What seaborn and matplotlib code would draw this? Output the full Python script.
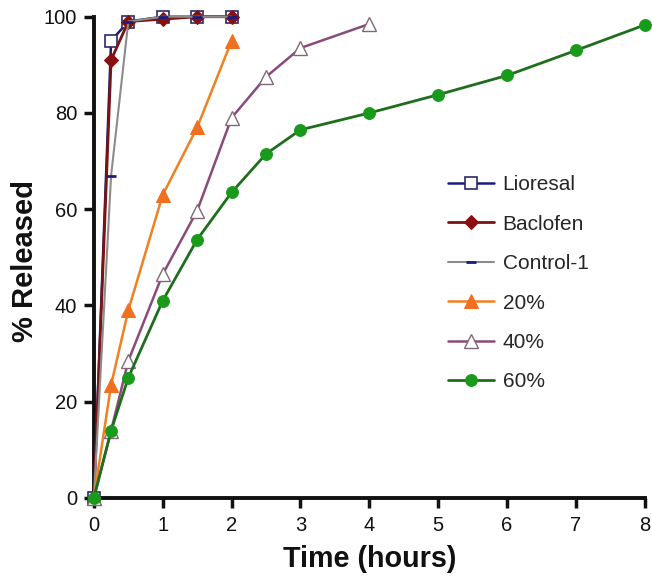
import matplotlib
matplotlib.use("Agg")
import matplotlib.pyplot as plt
import seaborn as sns
import pandas as pd

sns.set_style("ticks")
plt.rcParams['font.family'] = ['Liberation Sans', 'DejaVu Sans']

# Data
t_short = [0, 0.25, 0.5, 1, 1.5, 2]
lioresal = [0, 95, 99, 100, 100, 100]
baclofen = [0, 91, 99, 99.5, 100, 100]
control1 = [0, 67, 99, 100, 100, 100]
t_20 = [0, 0.25, 0.5, 1, 1.5, 2]
p20 = [0, 23.5, 39, 63, 77, 95]
t_40 = [0, 0.25, 0.5, 1, 1.5, 2, 2.5, 3, 4]
p40 = [0, 14, 28.5, 46.5, 59.7, 79, 87.5, 93.5, 98.5]
t_60 = [0, 0.25, 0.5, 1, 1.5, 2, 2.5, 3, 4, 5, 6, 7, 8]
p60 = [0, 14, 25, 41, 53.7, 63.5, 71.5, 76.5, 80, 83.8, 87.8, 93, 98.3]

x_ticks = [0, 1, 2, 3, 4, 5, 6, 7, 8]
y_ticks = [0, 20, 40, 60, 80, 100]

fig = plt.figure(figsize=(6.52, 5.77), dpi=100)
ax = fig.add_axes([0.144, 0.137, 0.845, 0.834])

series = [
    ("Lioresal", t_short, lioresal, dict(color="#1c1c7a", marker="s", markersize=9,
                                         markerfacecolor="white", markeredgecolor="#2a2a6a",
                                         markeredgewidth=1.2, linewidth=1.8)),
    ("Baclofen", t_short, baclofen, dict(color="#7a1414", marker="D", markersize=7,
                                         markerfacecolor="#8a1010", markeredgecolor="#8a1010",
                                         linewidth=2.0)),
    ("Control-1", t_short, control1, dict(color="#8c8c8c", marker="_", markersize=7,
                                          markerfacecolor="#1c1c7a", markeredgecolor="#1c1c7a",
                                          markeredgewidth=2.0, linewidth=1.5)),
    ("20%", t_20, p20, dict(color="#f08020", marker="^", markersize=10,
                            markerfacecolor="#f07020", markeredgecolor="#f07020",
                            linewidth=1.8)),
    ("40%", t_40, p40, dict(color="#8a4a7c", marker="^", markersize=10,
                            markerfacecolor="white", markeredgecolor="#806878",
                            markeredgewidth=1.0, linewidth=1.8)),
    ("60%", t_60, p60, dict(color="#1e6e1e", marker="o", markersize=8.5,
                            markerfacecolor="#1a9a1a", markeredgecolor="#1a9a1a",
                            linewidth=2.0)),
]

for name, xs, ys, style in series:
    df = pd.DataFrame({"Time": xs, "Released": ys})
    sns.lineplot(data=df, x="Time", y="Released", ax=ax, label=name,
                 clip_on=False, zorder=3, **style)

ax.set_xlim(0, 8)
ax.set_ylim(0, 100)
ax.set_xticks(x_ticks)
ax.set_yticks(y_ticks)
ax.tick_params(axis="both", direction="out", length=7, width=2.5, labelsize=14.5,
               colors="#111111")
ax.tick_params(axis="x", pad=6)
ax.tick_params(axis="y", pad=5)
for s in ["top", "right"]:
    ax.spines[s].set_visible(False)
for s in ["left", "bottom"]:
    ax.spines[s].set_linewidth(2.8)
    ax.spines[s].set_color("#111111")
ax.set_xlabel("Time (hours)", fontsize=20.7, fontweight="bold", labelpad=7, color="#111111")
ax.set_ylabel("% Released", fontsize=21, fontweight="bold", color="#111111")
ax.yaxis.set_label_coords(-0.1, 0.493)

leg = ax.legend(loc="upper left", bbox_to_anchor=(0.635, 0.679), frameon=False,
                fontsize=15, handlelength=2.2, handletextpad=0.43, labelspacing=0.98,
                borderpad=0.2, borderaxespad=0)

fig.savefig("out.png", dpi=100)
